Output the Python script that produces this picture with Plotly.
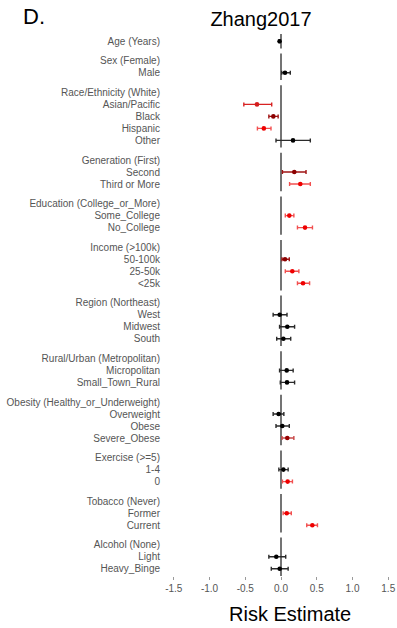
import plotly.graph_objects as go

# Forest plot of risk estimates, one facet panel per covariate group
row_labels = [
    "Age (Years)",
    "Sex (Female)", "Male",
    "Race/Ethnicity (White)", "Asian/Pacific", "Black", "Hispanic", "Other",
    "Generation (First)", "Second", "Third or More",
    "Education (College_or_More)", "Some_College", "No_College",
    "Income (&gt;100k)", "50-100k", "25-50k", "&lt;25k",
    "Region (Northeast)", "West", "Midwest", "South",
    "Rural/Urban (Metropolitan)", "Micropolitan", "Small_Town_Rural",
    "Obesity (Healthy_or_Underweight)", "Overweight", "Obese", "Severe_Obese",
    "Exercise (&gt;=5)", "1-4", "0",
    "Tobacco (Never)", "Former", "Current",
    "Alcohol (None)", "Light", "Heavy_Binge",
]
panel_sizes = [1, 2, 5, 3, 3, 4, 4, 3, 4, 3, 3, 3]

N = None
estimate = [
    -0.02,
    N, 0.056,
    N, -0.336, -0.107, -0.24, 0.168,
    N, 0.186, 0.27,
    N, 0.116, 0.336,
    N, 0.056, 0.158, 0.308,
    N, -0.018, 0.088, 0.033,
    N, 0.08, 0.084,
    N, -0.033, 0.018, 0.088,
    N, 0.033, 0.093,
    N, 0.08, 0.438,
    N, -0.066, -0.018,
]
ci_low = [
    -0.03,
    N, 0.01,
    N, -0.52, -0.17, -0.33, -0.07,
    N, 0.02, 0.12,
    N, 0.06, 0.23,
    N, 0.014, 0.06, 0.23,
    N, -0.11, -0.02, -0.06,
    N, -0.02, -0.01,
    N, -0.11, -0.07, 0.014,
    N, -0.03, 0.02,
    N, 0.03, 0.36,
    N, -0.17, -0.136,
]
ci_high = [
    -0.01,
    N, 0.13,
    N, -0.13, -0.04, -0.14, 0.41,
    N, 0.35, 0.41,
    N, 0.18, 0.44,
    N, 0.116, 0.25, 0.40,
    N, 0.084, 0.19, 0.136,
    N, 0.17, 0.19,
    N, 0.04, 0.116, 0.18,
    N, 0.10, 0.16,
    N, 0.144, 0.51,
    N, 0.066, 0.10,
]
tone = [
    "ns",
    N, "ns",
    N, "mid", "dark", "red", "ns",
    N, "dark", "red",
    N, "red", "red",
    N, "dark", "red", "red",
    N, "ns", "ns", "ns",
    N, "ns", "ns",
    N, "ns", "ns", "darklight",
    N, "ns", "red",
    N, "red", "red",
    N, "ns", "ns",
]

# (point colour, interval colour) for each tone
palette = {
    "ns": ("#000000", "#2b2b2b"),
    "mid": ("#d41c1c", "#d82222"),
    "dark": ("#8b0000", "#a01414"),
    "darklight": ("#960000", "#c84848"),
    "red": ("#ee0000", "#f25050"),
}

# vertical layout: rows one unit apart, 0.6 padding inside each panel, small gap between panels
PAD = 0.6
GAP = 0.435
row_y = []
panel_spans = []
top = 0.0
for n in panel_sizes:
    for k in range(n):
        row_y.append(top + PAD + k)
    bottom = top + PAD * 2 + (n - 1)
    panel_spans.append((top, bottom))
    top = bottom + GAP
y_total = top - GAP

fig = go.Figure()

# reference line at zero, one segment per panel
zx, zy = [], []
for t, b in panel_spans:
    zx += [0, 0, None]
    zy += [t, b, None]
fig.add_trace(go.Scatter(x=zx, y=zy, mode="lines",
                         line=dict(color="#5c5c5c", width=1.7),
                         hoverinfo="skip", showlegend=False))

for lab, y, est, lo, hi, tn in zip(row_labels, row_y, estimate, ci_low, ci_high, tone):
    if est is None:
        continue
    pc, lc = palette[tn]
    fig.add_trace(go.Scatter(
        x=[est], y=[y], mode="markers",
        marker=dict(color=pc, size=4.6, line=dict(width=0)),
        error_x=dict(type="data", symmetric=False,
                     array=[hi - est], arrayminus=[est - lo],
                     color=lc, thickness=1.4, width=2),
        name=lab, showlegend=False,
    ))

W, H = 397, 628
ML, MR, MT, MB = 165, 0, 34, 52
x_unit = 71.5
x_lo = (ML - 281) / x_unit
x_hi = (W - MR - 281) / x_unit

label_font = dict(family="Liberation Sans, Arial, sans-serif", size=10, color="#555555")

fig.update_layout(
    width=W, height=H,
    margin=dict(l=ML, r=MR, t=MT, b=MB, pad=0),
    plot_bgcolor="white", paper_bgcolor="white",
    font=label_font,
    title=dict(text="Zhang2017", x=261 / W, xanchor="center",
               y=1 - 18.5 / H, yanchor="middle", yref="container",
               font=dict(family="Liberation Sans, Arial, sans-serif", size=20, color="#000000")),
    xaxis=dict(range=[x_lo, x_hi], tickvals=[-1.5, -1.0, -0.5, 0.0, 0.5, 1.0, 1.5],
               ticktext=["-1.5", "-1.0", "-0.5", "0.0", "0.5", "1.0", "1.5"],
               showgrid=False, zeroline=False, showline=False,
               ticks="outside", ticklen=3, tickwidth=1, tickcolor="#9a9a9a",
               tickfont=label_font),
    yaxis=dict(range=[y_total, 0], tickvals=row_y, ticktext=row_labels,
               showgrid=False, zeroline=False, showline=False,
               ticks="", ticklabelstandoff=4, tickfont=label_font),
    annotations=[
        dict(text="D.", xref="paper", yref="paper",
             x=(21 - ML) / (W - ML - MR), y=(H - MB - 16.5) / (H - MT - MB),
             xanchor="left", yanchor="middle", showarrow=False,
             font=dict(family="Liberation Sans, Arial, sans-serif", size=22, color="#000000")),
        dict(text="Risk Estimate", xref="paper", yref="paper",
             x=(289.5 - ML) / (W - ML - MR), y=(H - MB - 614) / (H - MT - MB),
             xanchor="center", yanchor="middle", showarrow=False,
             font=dict(family="Liberation Sans, Arial, sans-serif", size=20, color="#000000")),
    ],
)

fig.write_html("out.html")
